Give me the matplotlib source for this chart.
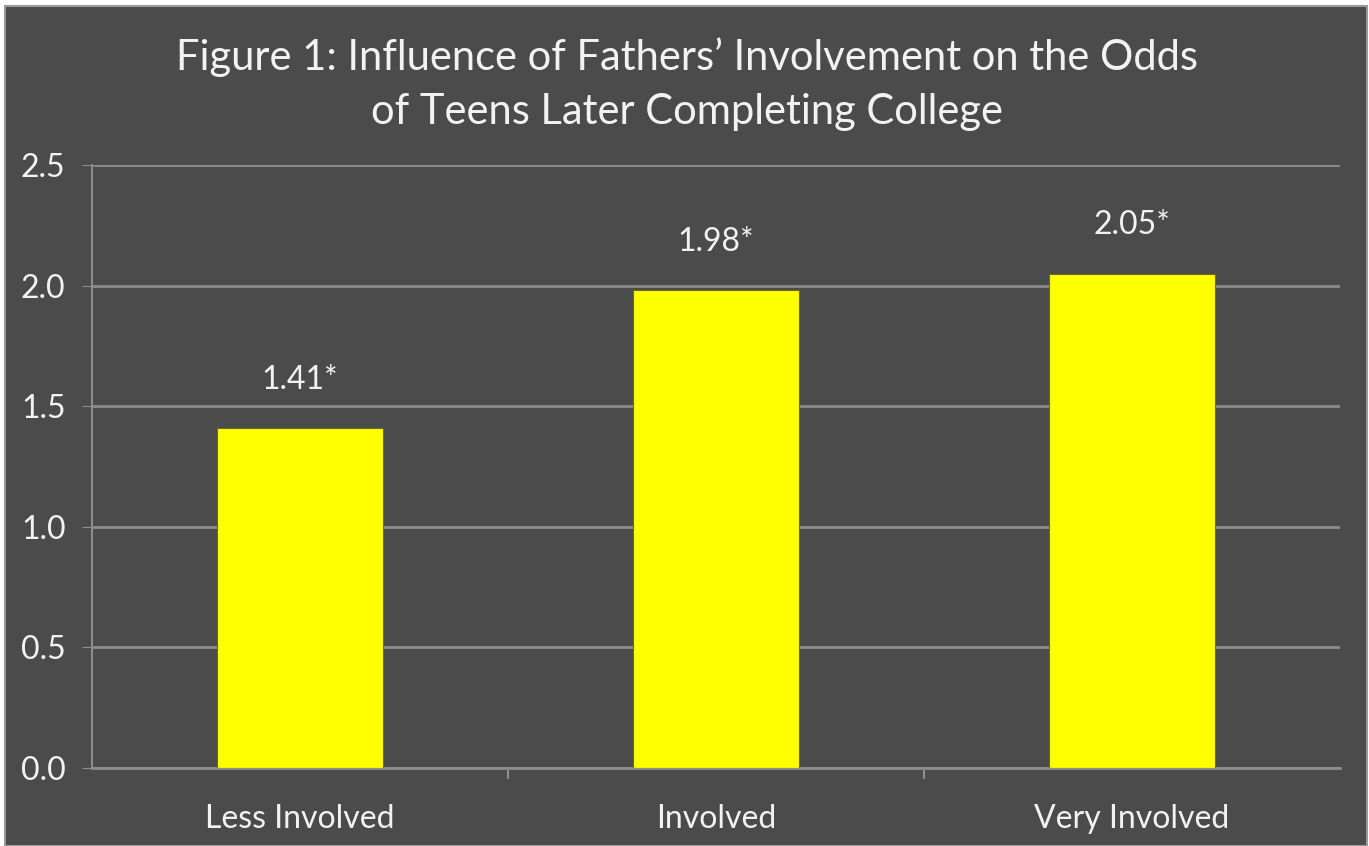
import matplotlib.pyplot as plt
from matplotlib.patches import Rectangle

# data
categories = ["Less Involved", "Involved", "Very Involved"]
odds = [1.41, 1.98, 2.05]
value_labels = ["1.41*", "1.98*", "2.05*"]
yticks = [0.0, 0.5, 1.0, 1.5, 2.0, 2.5]

bg = "#4b4b4b"
grid_col = "#8c8c8c"
txt = "#f2f2f2"

plt.rcParams["font.family"] = ["Lato", "DejaVu Sans"]

fig = plt.figure(figsize=(13.69, 8.46), dpi=100)
fig.patch.set_facecolor("white")

# dark panel with a thin light frame
panel = Rectangle((5 / 1369, 0), 1362 / 1369, 840 / 846,
                  transform=fig.transFigure, facecolor=bg,
                  edgecolor="#9a9a9a", linewidth=1.5, zorder=-10)
fig.patches.append(panel)

ax = fig.add_axes([92 / 1369, 1 - 768 / 846, 1248 / 1369, (768 - 165) / 846])
ax.set_facecolor(bg)
ax.patch.set_alpha(0)

x = list(range(len(categories)))
ax.bar(x, odds, width=0.4, color="#ffff00", edgecolor="#6b6b1e",
       linewidth=0.8, zorder=3)

for xi, v, lab in zip(x, odds, value_labels):
    ax.text(xi, v + 0.2, lab, ha="center", va="center", color=txt, fontsize=23)

ax.set_xlim(-0.5, 2.5)
ax.set_ylim(0, 2.5)
ax.set_yticks(yticks)
ax.set_yticklabels([f"{t:.1f}" for t in yticks])
ax.set_xticks(x)
ax.set_xticklabels(categories)
ax.tick_params(axis="x", length=0, pad=26, labelsize=23, colors=txt)
ax.tick_params(axis="y", length=7, pad=12, labelsize=23, colors=txt, color=grid_col)

# category boundary ticks below the x axis
ax.set_xticks([0.5, 1.5], minor=True)
ax.tick_params(axis="x", which="minor", length=8, color=grid_col, width=1.5)

ax.grid(axis="y", color=grid_col, linewidth=2, zorder=0)
for s in ["top", "right"]:
    ax.spines[s].set_visible(False)
ax.spines["left"].set_color(grid_col)
ax.spines["bottom"].set_color(grid_col)
ax.spines["left"].set_linewidth(1.5)
ax.spines["bottom"].set_linewidth(2)

fig.text(687 / 1369, 1 - 84 / 846,
         "Figure 1: Influence of Fathers\u2019 Involvement on the Odds\nof Teens Later Completing College",
         ha="center", va="center", color=txt, fontsize=30, linespacing=1.5)

plt.savefig("out.png", dpi=100, facecolor=fig.get_facecolor())
